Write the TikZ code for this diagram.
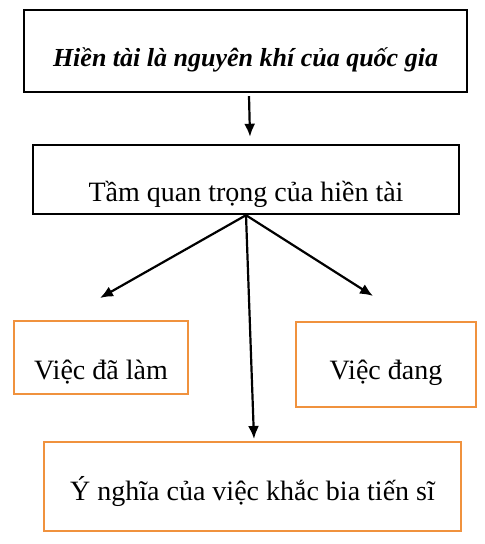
\documentclass[tikz,border=0pt]{standalone}
\usepackage{fontspec}
\setmainfont{Liberation Serif}
\usetikzlibrary{arrows.meta,calc}
\definecolor{boxorange}{RGB}{240,146,62}
\tikzset{
  arrow/.style={-{Latex[length=6.5pt,width=5.5pt]},line width=1.1pt},
}
\begin{document}
\begin{tikzpicture}[x=0.5pt,y=-0.5pt,font=\fontsize{14}{16}\selectfont]
    \useasboundingbox (0,0) rectangle (484,544);

      % black boxes
      \begin{scope}[every node/.style={draw,line width=1.2pt,inner sep=0pt,anchor=base,align=center}]
        \node[minimum width=221.5pt,text height=28.5pt,text depth=12.5pt] (top) at (245.5,67) {\fontsize{13}{15}\selectfont\bfseries\itshape Hiền tài là nguyên khí của quốc gia};
        \node[minimum width=213pt,text height=28.5pt,text depth=6pt] (imp) at (246,202) {Tầm quan trọng của hiền tài};
      \end{scope}

      % orange boxes
      \begin{scope}[every node/.style={draw=boxorange,line width=1pt,inner sep=0pt,anchor=base,align=center}]
        \node[minimum width=87pt,text height=29pt,text depth=7.5pt] (done) at (101,379) {Việc đã làm};
        \node[minimum width=90pt,text height=28.5pt,text depth=14pt] (doing) at (386,379) {Việc đang};
        \node[minimum width=208.5pt,text height=29pt,text depth=15.5pt] (meaning) at (252.5,500) {Ý nghĩa của việc khắc bia tiến sĩ};
      \end{scope}

      \coordinate (tipL) at (100,298);
      \coordinate (tipR) at (373,296);

      \draw[arrow] ([xshift=1.75pt,yshift=-1.5pt]top.south) -- ([xshift=2pt,yshift=3.5pt]imp.north);
      \draw[arrow] (imp.south) -- (tipL);
      \draw[arrow] (imp.south) -- (tipR);
      \draw[arrow] (imp.south) -- ([xshift=0.75pt,yshift=1pt]meaning.north);

    \end{tikzpicture}
\end{document}
